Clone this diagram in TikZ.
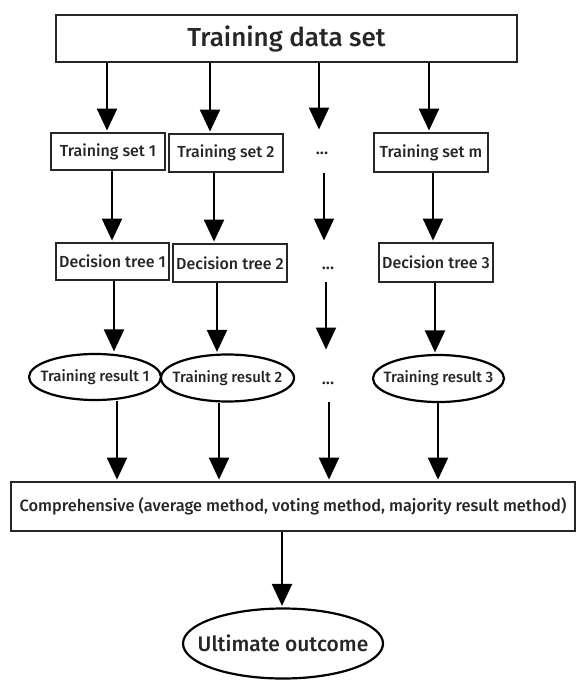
\documentclass[tikz,border=0pt]{standalone}
\usepackage{fontspec}
\setmainfont{Fira Sans Medium}
\usetikzlibrary{arrows.meta,shapes.geometric}
\newcommand\fsz[1]{\fontsize{#1}{#1}\selectfont}
\newcommand\zw[1]{\makebox[0pt]{#1}}
\begin{document}
\begin{tikzpicture}[x=1pt,y=-1pt,
  box/.style={draw=black!85, line width=1.8pt, rectangle, inner sep=0pt, text=black!85},
  res/.style={draw=black, line width=2.2pt, ellipse, inner sep=0pt, text=black!85},
  arr/.style={line width=2.2pt, -{Triangle[width=20pt,length=22pt]}, shorten >=1.5pt},
  dots/.style={inner sep=0pt, text=black!85, font=\fsz{17}}
]
\useasboundingbox (0,0) rectangle (576,680);
\fill[white] (0,0) rectangle (576,680);

% top
\node[box, minimum width=461pt, minimum height=47pt, font=\fsz{26}] (top) at (286.5,38.5) {\zw{Training data set}};

% training sets
\node[box, minimum width=114pt, minimum height=37pt, font=\fsz{16}] (ts1) at (108,151.5) {\zw{Training set 1}};
\node[box, minimum width=114pt, minimum height=38pt, font=\fsz{16}] (ts2) at (226,153) {\zw{Training set 2}};
\node[dots] (d1) at (322,153) {...};
\node[box, minimum width=114pt, minimum height=39pt, font=\fsz{16}] (tsm) at (431,152.5) {\zw{Training set m}};

% decision trees
\node[box, minimum width=113pt, minimum height=37pt, font=\fsz{16}] (dt1) at (112.5,261.5) {\zw{Decision tree 1}};
\node[box, minimum width=114pt, minimum height=38pt, font=\fsz{16}] (dt2) at (230,263) {\zw{Decision tree 2}};
\node[dots] (d2) at (328,268) {...};
\node[box, minimum width=114pt, minimum height=39pt, font=\fsz{16}] (dt3) at (436,262.5) {\zw{Decision tree 3}};

% results
\node[res, minimum width=132pt, minimum height=46pt, font=\fsz{15}] (tr1) at (95,377) {\zw{Training result 1}};
\node[res, minimum width=133pt, minimum height=47pt, font=\fsz{15}] (tr2) at (227.5,378) {\zw{Training result 2}};
\node[dots] (d3) at (328,383) {...};
\node[res, minimum width=131pt, minimum height=47pt, font=\fsz{15}] (tr3) at (438.5,378.5) {\zw{Training result 3}};

% comprehensive
\node[box, minimum width=564pt, minimum height=49pt, font=\fsz{16.4}] (comp) at (293,506.5) {\zw{Comprehensive (average method, voting method, majority result method)}};

% ultimate
\node[res, minimum width=200pt, minimum height=70pt, font=\fsz{21}] (ult) at (283,643.5) {\zw{Ultimate outcome}};

% dots-column coordinates
\coordinate (e1) at (319,131);
\coordinate (s2) at (324,173);
\coordinate (e2) at (324,242);
\coordinate (s3) at (326,282);
\coordinate (e3) at (326,351);
\coordinate (s4) at (329,402);

% row 1
\draw[arr] (top.south -| 107,0) -- (ts1.north -| 107,0);
\draw[arr] (top.south -| 210,0) -- (ts2.north -| 210,0);
\draw[arr] (top.south -| e1) -- (e1);
\draw[arr] (top.south -| 429,0) -- (tsm.north -| 429,0);
% row 2
\draw[arr] (ts1.south -| 112,0) -- (dt1.north -| 112,0);
\draw[arr] (ts2.south -| 214,0) -- (dt2.north -| 214,0);
\draw[arr] (s2) -- (e2);
\draw[arr] (tsm.south -| 433,0) -- (dt3.north -| 433,0);
% row 3
\draw[arr] (dt1.south -| 114,0) -- (tr1.north -| 114,0);
\draw[arr] (dt2.south -| 217,0) -- (tr2.north -| 217,0);
\draw[arr] (s3) -- (e3);
\draw[arr] (dt3.south -| 435,0) -- (tr3.north -| 435,0);
% row 4
\draw[arr] (tr1.south -| 117,0) -- (comp.north -| 117,0);
\draw[arr] (tr2.south -| 219,0) -- (comp.north -| 219,0);
\draw[arr] (s4) -- (comp.north -| s4);
\draw[arr] (tr3.south -| 438,0) -- (comp.north -| 438,0);
% row 5
\draw[arr] (comp.south -| 282,0) -- (ult.north -| 282,0);
\end{tikzpicture}
\end{document}
